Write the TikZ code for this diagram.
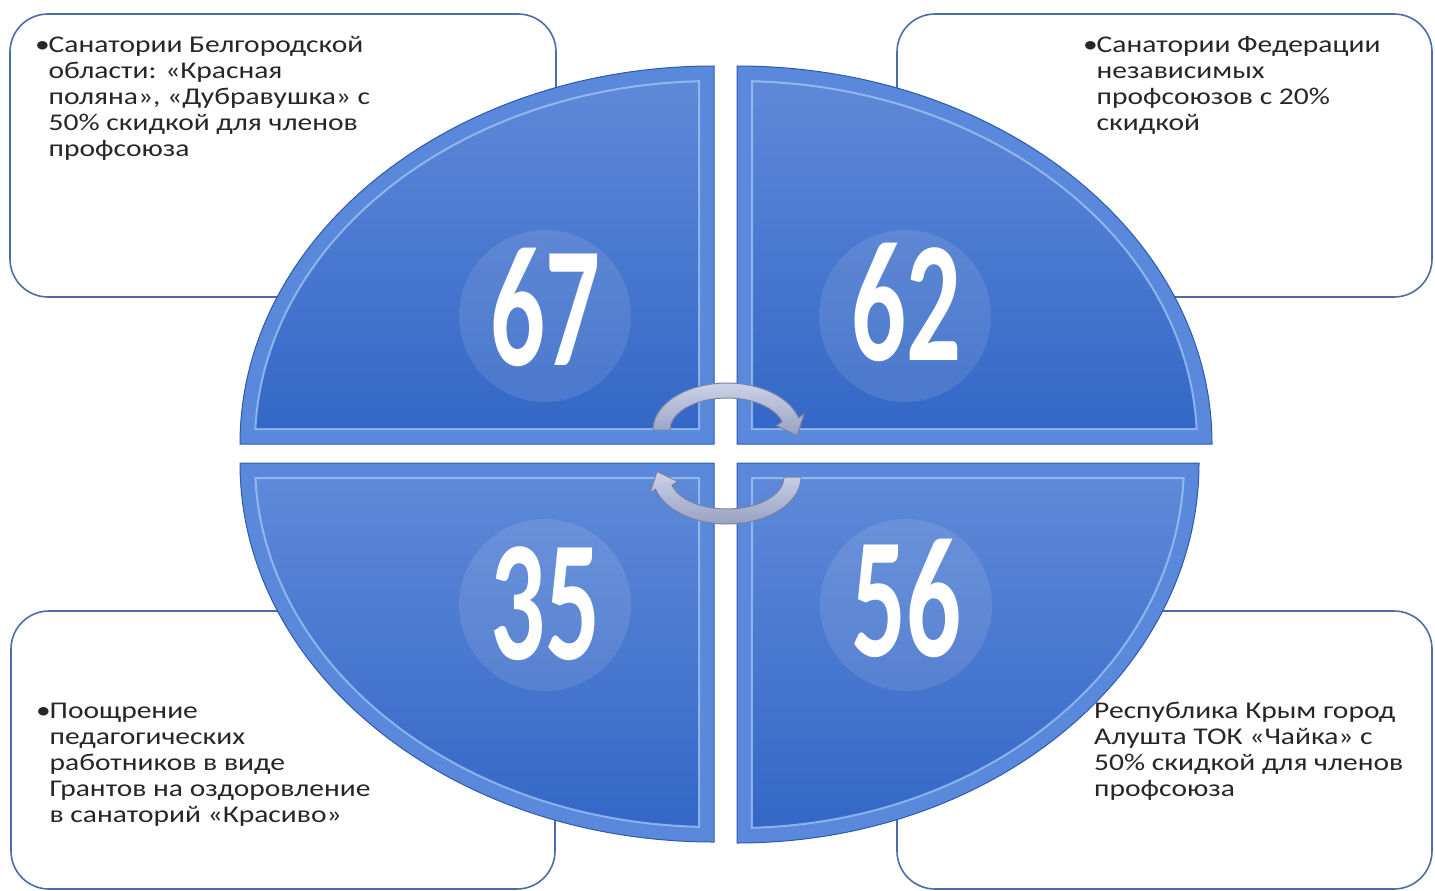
\documentclass[tikz,border=0pt]{standalone}
\usepackage{fontspec}
\usepackage{graphicx}
\setmainfont{Carlito}
\usetikzlibrary{calc}
\definecolor{boxline}{HTML}{4A6DAA}
\definecolor{qdark}{HTML}{2C5AAE}
\definecolor{qtop}{HTML}{5E89D8}
\definecolor{qbot}{HTML}{3467C6}
\definecolor{qbevel}{HTML}{5A89DC}
\definecolor{qlight}{HTML}{A9CBF8}
\definecolor{arrtop}{HTML}{CBD2E8}
\definecolor{arrbot}{HTML}{98A2C2}
\definecolor{arrline}{HTML}{7A83A2}
\definecolor{txt}{HTML}{262626}
\tikzset{
  infobox/.style={draw=boxline, line width=1.6pt, fill=white, rounded corners=38pt},
  boxtext/.style={anchor=north west, inner sep=0pt, text=txt,
    font=\fontsize{24}{26}\selectfont},
  quadouter/.style={fill=qbevel, draw=qdark, line width=1pt},
  quadinner/.style={top color=qtop, bottom color=qbot, draw=qlight, draw opacity=0.7, line width=2pt},
  numdisc/.style={circle, minimum size=172pt, fill=white, fill opacity=0.1, inner sep=0pt},
  numtext/.style={text=white, inner sep=0pt, font=\fontsize{172}{172}\selectfont\bfseries},
  cyclearr/.style={draw=arrline, line width=1pt, top color=arrtop, bottom color=arrbot}
}
\newcommand{\arrowshape}{%
  (180:74 and 47) arc[start angle=180, end angle=345, x radius=74, y radius=47]
  -- (77.1,-16.1) -- (69.9,5.4) -- (49.5,-4.4)
  -- (345:57 and 32) arc[start angle=345, end angle=180, x radius=57, y radius=32]
  -- cycle}
\begin{document}
\begin{tikzpicture}[x=1pt, y=-1pt]
\useasboundingbox (0,0) rectangle (1435,891);
\clip (0,0) rectangle (1435,891);

% information boxes
\draw[infobox] (10,14) rectangle (556,297);
\draw[infobox] (897,14) rectangle (1432,297);
\draw[infobox] (11,611) rectangle (555,889);
\draw[infobox] (897,611) rectangle (1432,889);

\node[boxtext] (t1) at (35,34) {\scalebox{1.23}[1]{\begin{tabular}{@{}l@{\hspace{-1pt}}l@{}}
•&Санатории Белгородской\\
 &области: «Красная\\
 &поляна», «Дубравушка» с\\
 &50\% скидкой для членов\\
 &профсоюза
\end{tabular}}};

\node[boxtext] (t2) at (1083,34) {\scalebox{1.23}[1]{\begin{tabular}{@{}l@{\hspace{-1pt}}l@{}}
•&Санатории Федерации\\
 &независимых\\
 &профсоюзов с 20\%\\
 &скидкой
\end{tabular}}};

\node[boxtext] (t3) at (36,700) {\scalebox{1.23}[1]{\begin{tabular}{@{}l@{\hspace{-1pt}}l@{}}
•&Поощрение\\
 &педагогических\\
 &работников в виде\\
 &Грантов на оздоровление\\
 &в санаторий «Красиво»
\end{tabular}}};

\node[boxtext] (t4) at (1094,700) {\scalebox{1.23}[1]{\begin{tabular}{@{}l@{}}
Республика Крым город\\
Алушта ТОК «Чайка» с\\
50\% скидкой для членов\\
профсоюза
\end{tabular}}};

% quadrants
\path[quadouter] (714,444) -- (240,444) arc[start angle=180, end angle=270, x radius=474, y radius=378] -- cycle;
\path[quadinner] (699,429) -- (255.4,429) arc[start angle=182.37, end angle=268.13, x radius=459, y radius=363] -- cycle;

\path[quadouter] (737,444) -- (1212,444) arc[start angle=0, end angle=-90, x radius=475, y radius=378] -- cycle;
\path[quadinner] (752,429) -- (1196.6,429) arc[start angle=-2.37, end angle=-88.13, x radius=460, y radius=363] -- cycle;

\path[quadouter] (714,463) -- (240,463) arc[start angle=180, end angle=90, x radius=474, y radius=379] -- cycle;
\path[quadinner] (699,478) -- (255.4,478) arc[start angle=177.64, end angle=91.87, x radius=459, y radius=364] -- cycle;

\path[quadouter] (737,463) -- (1199,463) arc[start angle=0, end angle=90, x radius=462, y radius=380] -- cycle;
\path[quadinner] (752,478) -- (1183.6,478) arc[start angle=2.36, end angle=88.08, x radius=447, y radius=365] -- cycle;

% number discs and numbers
\node[numdisc] (d67) at (545,316) {};
\node[numdisc] (d62) at (905,316) {};
\node[numdisc] (d35) at (545,605) {};
\node[numdisc] (d56) at (906,605) {};
\node[numtext] (n67) at (545,307) {\scalebox{0.63}[1]{67}};
\node[numtext] (n62) at (906,302) {\scalebox{0.63}[1]{62}};
\node[numtext] (n35) at (545,604) {\scalebox{0.63}[1]{35}};
\node[numtext] (n56) at (906,598) {\scalebox{0.63}[1]{56}};

% cycle arrows
\begin{scope}[shift={(727,430)}]
  \path[cyclearr] \arrowshape;
\end{scope}
\begin{scope}[shift={(727,477)}, rotate=180]
  \path[cyclearr] \arrowshape;
\end{scope}
\end{tikzpicture}
\end{document}
